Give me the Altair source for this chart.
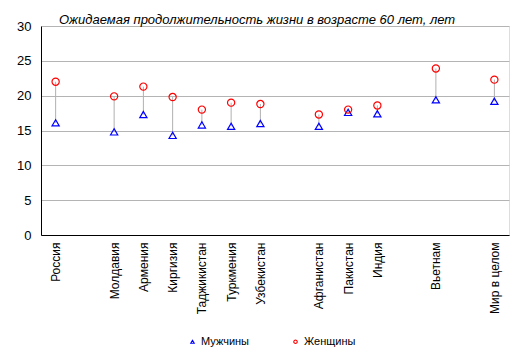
import altair as alt
import pandas as pd

countries = ["Россия", "Молдавия", "Армения", "Киргизия", "Таджикистан", "Туркмения",
             "Узбекистан", "Афганистан", "Пакистан", "Индия", "Вьетнам", "Мир в целом"]
men = [16.1, 14.8, 17.3, 14.3, 15.8, 15.6, 16.0, 15.6, 17.6, 17.4, 19.4, 19.2]
women = [22.0, 19.9, 21.3, 19.8, 18.0, 19.0, 18.8, 17.3, 18.0, 18.6, 23.9, 22.3]
# x-axis slots, with blank spacer slots between country groups
slots = ["Россия", " ", "Молдавия", "Армения", "Киргизия", "Таджикистан", "Туркмения",
         "Узбекистан", "  ", "Афганистан", "Пакистан", "Индия", "   ", "Вьетнам", "    ",
         "Мир в целом"]
series = ["Мужчины", "Женщины"]

wide = pd.DataFrame({"Страна": countries, "Мужчины": men, "Женщины": women})
long = pd.concat([
    pd.DataFrame({"Страна": countries, "Пол": "Мужчины", "Значение": men}),
    pd.DataFrame({"Страна": countries, "Пол": "Женщины", "Значение": women}),
])

FONT = "Liberation Sans"

x = alt.X("Страна:N", scale=alt.Scale(domain=slots, type="point", padding=0.5),
          sort=slots, title=None,
          axis=alt.Axis(labelAngle=-90, labelAlign="right", labelBaseline="middle",
                        ticks=False, labelPadding=7, domainColor="black",
                        labelFontSize=12, labelColor="black", labelFont=FONT))
yscale = alt.Scale(domain=[0, 30], nice=False)
yaxis = alt.Axis(values=[0, 5, 10, 15, 20, 25, 30], ticks=False, labelPadding=10,
                 domainColor="black", gridColor="#b4b4b4", labelFontSize=13,
                 labelColor="black", labelFont=FONT)

rules = alt.Chart(wide).mark_rule(color="#b0b0b0", strokeWidth=1).encode(
    x=x,
    y=alt.Y("Мужчины:Q", scale=yscale, axis=yaxis, title=None),
    y2="Женщины:Q",
)

points = alt.Chart(long).mark_point(filled=False, strokeWidth=1.2, opacity=1, size=52).encode(
    x=x,
    y=alt.Y("Значение:Q", scale=yscale, axis=yaxis, title=None),
    color=alt.Color("Пол:N", scale=alt.Scale(domain=series, range=["#0000ff", "#ff0000"]),
                    legend=alt.Legend(title=None, orient="none", legendX=146, legendY=310,
                                      direction="horizontal", columnPadding=40,
                                      symbolSize=12, symbolStrokeWidth=1.1, labelOffset=3,
                                      labelFontSize=11, labelFont=FONT, labelColor="black")),
    shape=alt.Shape("Пол:N", scale=alt.Scale(domain=series, range=["triangle-up", "circle"]),
                    legend=None),
)

chart = alt.layer(rules, points).properties(
    width=468, height=209,
    autosize=alt.AutoSizeParams(type="none"),
    padding={"left": 33, "top": 18, "right": 6, "bottom": 117},
    title=alt.TitleParams("Ожидаемая продолжительность жизни в возрасте 60 лет, лет",
                          anchor="start", frame="group", dx=18, dy=12, offset=5,
                          fontSize=13, font=FONT,
                          fontStyle="italic", fontWeight="normal", color="black"),
).configure_view(stroke="#888888", strokeWidth=1).configure(background="white")

chart.save("out.html", embed_options={"renderer": "svg", "actions": False})
